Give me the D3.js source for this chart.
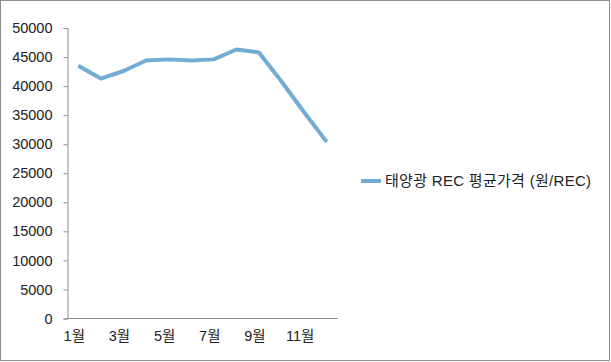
<!DOCTYPE html>
<html>
<head>
<meta charset="utf-8">
<script src="https://cdn.jsdelivr.net/npm/d3@7"></script>
<style>
  body { margin: 0; background: #fff; }
  text { font-family: "Liberation Sans", Arial, "Noto Sans CJK KR", sans-serif; fill: #222; }
</style>
</head>
<body>
<div id="chart"></div>
<script>
var months = ["1월", "2월", "3월", "4월", "5월", "6월", "7월", "8월", "9월", "10월", "11월", "12월"];
var prices = [43500, 41300, 42600, 44400, 44600, 44400, 44600, 46300, 45800, 40800, 35500, 30400];
var yTicks = [0, 5000, 10000, 15000, 20000, 25000, 30000, 35000, 40000, 45000, 50000];
var shownLabels = ["1월", "3월", "5월", "7월", "9월", "11월"];
var seriesName = "태양광 REC 평균가격 (원/REC)";

var svgWidth = 611;
var svgHeight = 362;

var svg = d3.select("#chart")
  .append("svg")
  .attr("width", svgWidth)
  .attr("height", svgHeight);

// outer frame
svg.append("rect")
  .attr("x", 0.5)
  .attr("y", 0.5)
  .attr("width", 609)
  .attr("height", 360)
  .attr("fill", "none")
  .attr("stroke", "#8c8c8c");

var x = d3.scaleBand().domain(months).range([67, 338]);
var y = d3.scaleLinear().domain([0, 50000]).range([318.5, 28]);

// y axis
var yAxis = svg.append("g")
  .attr("transform", "translate(67.5,0)")
  .call(d3.axisLeft(y).tickValues(yTicks).tickSize(4).tickPadding(11).tickFormat(d3.format("d")));
yAxis.selectAll("line, path").attr("stroke", "#8c8c8c");
yAxis.selectAll("text").style("font-size", "14.5px").attr("fill", "#222");

// x axis
var xAxis = svg.append("g")
  .attr("transform", "translate(0,318.5)")
  .call(d3.axisBottom(x).tickSize(0).tickPadding(12)
    .tickFormat(d => shownLabels.includes(d) ? d : ""));
xAxis.select("path").attr("stroke", "#8c8c8c").attr("d", "M67,0H338");
xAxis.selectAll("text").style("font-size", "14.5px").attr("dx", -4).attr("fill", "#222");

// line
var line = d3.line()
  .x((d, i) => x(months[i]) + x.bandwidth() / 2)
  .y(d => y(d));

svg.append("path")
  .datum(prices)
  .attr("d", line)
  .attr("fill", "none")
  .attr("stroke", "#71acd4")
  .attr("stroke-width", 4)
  .attr("stroke-linejoin", "round");

// legend
var legend = svg.append("g").attr("transform", "translate(361,181)");
legend.append("line")
  .attr("x1", 0).attr("x2", 20)
  .attr("stroke", "#71acd4")
  .attr("stroke-width", 4);
legend.append("text")
  .attr("x", 24)
  .attr("dy", "0.35em")
  .style("font-size", "15px")
  .style("letter-spacing", "0.3px")
  .text(seriesName);
</script>
</body>
</html>
